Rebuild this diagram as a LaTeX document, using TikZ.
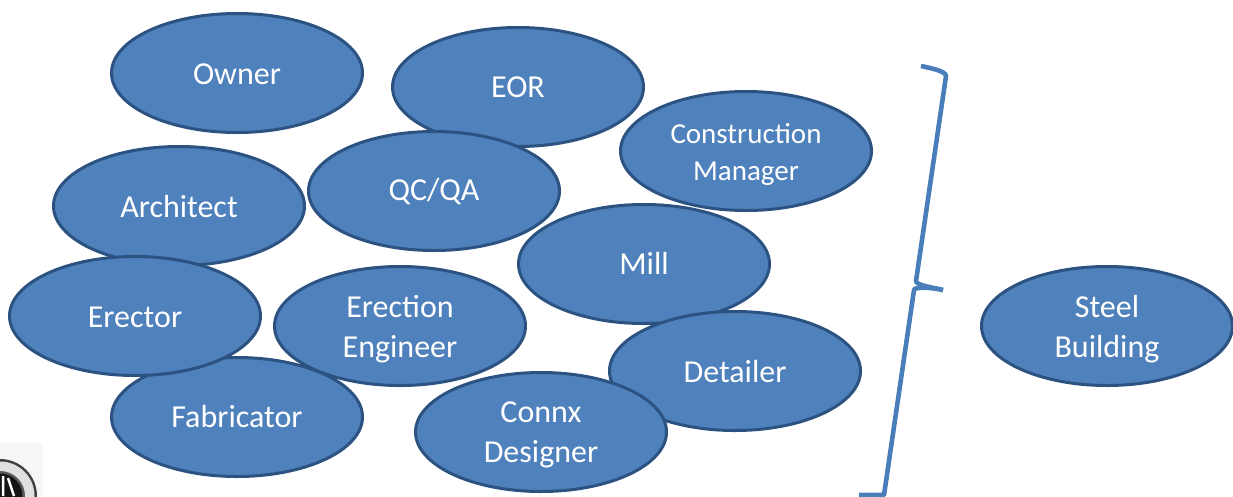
\documentclass[tikz,border=0pt]{standalone}
\usepackage{fontspec}
\setmainfont{Carlito}
\usetikzlibrary{shapes.geometric}
\definecolor{fillblue}{RGB}{79,129,189}
\definecolor{edgeblue}{RGB}{44,82,130}
\definecolor{bracketblue}{RGB}{74,126,187}
\tikzset{
  stake/.style={ellipse,draw=edgeblue,fill=fillblue,line width=3pt,minimum width=251pt,minimum height=119pt,inner sep=0pt},
  staketext/.style={inner sep=0pt,text=white,font=\fontsize{32}{40}\selectfont,align=center},
  bracketline/.style={draw=bracketblue,line width=4.6pt,line join=round,line cap=butt}
}
\newcommand{\stakeat}[5]{\node[stake,label={[staketext,yshift=#4]center:{#5}}] (#1) at (#2,#3) {};}
\begin{document}
\begin{tikzpicture}[x=1pt,y=-1pt]
\useasboundingbox (0,0) rectangle (1233,496);
% logo
\fill[black!3] (0,443) rectangle (43,496);
\begin{scope}
\clip (0,443) rectangle (43,496);
\fill[black!75] (0,496) circle (37);
\fill[black!12] (0,496) circle (34.5);
\fill[black!65] (0,496) circle (25);
\fill[black!92] (0,496) circle (22.5);
\draw[white,line width=2.5pt] (3,476) -- (3,496) (8,478) -- (14,496);
\end{scope}
\stakeat{owner}{237}{73}{-1pt}{Owner}
\stakeat{eor}{518}{87}{0pt}{EOR}
\node[stake,label={[staketext,font=\fontsize{29}{37}\selectfont,yshift=-3pt]center:{Construction\\Manager}}] (cm) at (746,151) {};
\stakeat{arch}{179}{206}{-1pt}{Architect}
\stakeat{qc}{434}{191}{-1pt}{QC/QA}
\stakeat{mill}{644}{264}{1pt}{Mill}
\stakeat{fab}{237}{417}{1pt}{Fabricator}
\stakeat{erector}{135}{316}{-1pt}{Erector}
\stakeat{ee}{400}{326}{-3pt}{Erection\\Engineer}
\stakeat{det}{735}{371}{0pt}{Detailer}
\stakeat{connx}{541}{432}{-3pt}{Connx\\Designer}
\stakeat{steel}{1107}{326}{-3pt}{Steel\\Building}
% brace
\coordinate (b1) at (921,66);
\coordinate (b2) at (946,76);
\coordinate (b4) at (943,290);
\coordinate (b5) at (884,495);
\draw[bracketline] (b1) .. controls (930,68) and (946,71) .. (b2)
  -- (916,281) .. controls (916,285) and (930,287) .. (b4);
\draw[bracketline] (b4) .. controls (930,287) and (914,287) .. (914,290)
  -- (b5) -- (859,495);
\end{tikzpicture}
\end{document}
